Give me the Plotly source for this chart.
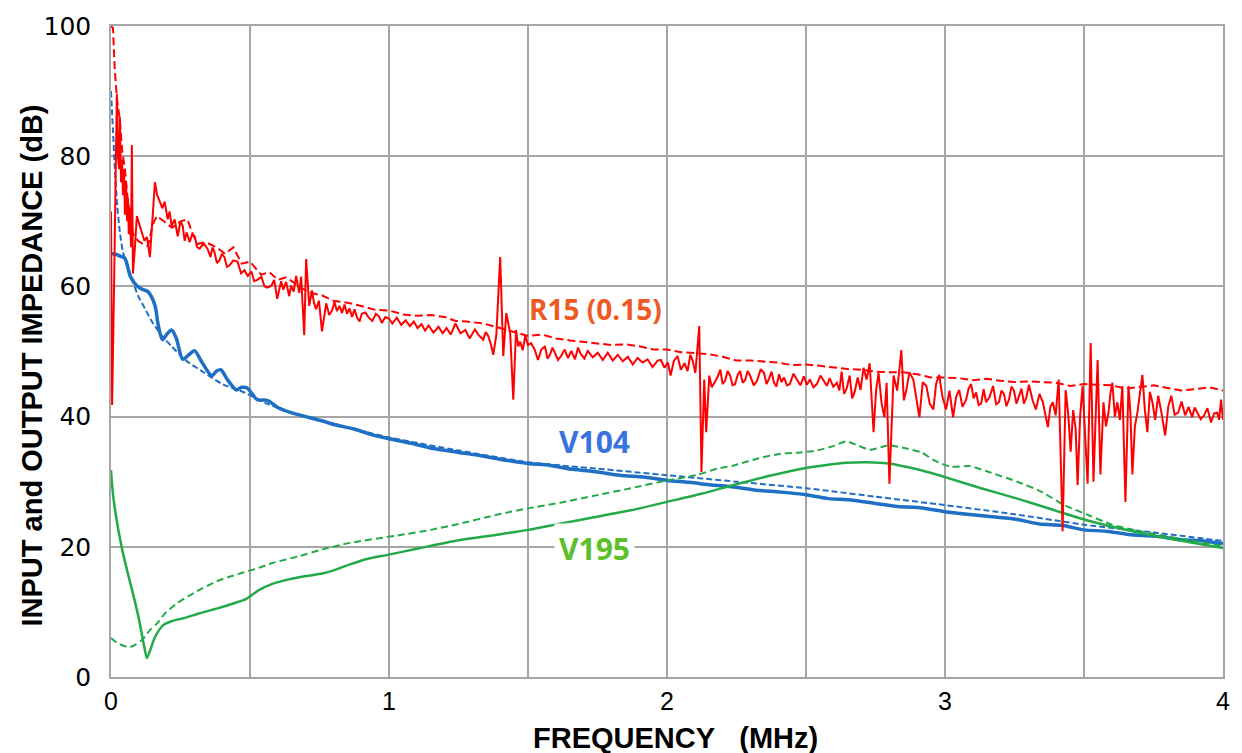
import plotly.graph_objects as go

# ---------------- data: (frequency MHz, impedance dB) ----------------
red_solid = [
    (0.000, 71.5), (0.004, 41.8), (0.011, 60.0), (0.018, 82.0), (0.021, 89.6), (0.025, 80.0),
    (0.029, 78.0), (0.032, 86.0), (0.036, 76.0), (0.040, 79.5), (0.043, 74.0), (0.047, 78.0),
    (0.050, 71.0), (0.054, 76.0), (0.058, 70.0), (0.061, 73.5), (0.064, 68.0), (0.068, 72.0),
    (0.072, 66.0), (0.075, 81.7), (0.079, 62.0), (0.086, 66.0), (0.093, 70.8), (0.102, 69.5),
    (0.111, 68.3), (0.120, 67.0), (0.129, 67.6), (0.140, 64.5), (0.158, 76.0), (0.166, 74.0),
    (0.175, 73.1), (0.185, 72.0), (0.193, 73.0), (0.204, 70.3), (0.211, 71.5), (0.218, 69.3),
    (0.229, 70.3), (0.240, 67.7), (0.250, 70.0), (0.258, 69.3), (0.265, 67.0), (0.272, 68.3),
    (0.283, 66.8), (0.292, 68.0), (0.301, 67.7), (0.310, 66.0), (0.319, 65.8), (0.333, 66.6),
    (0.347, 65.8), (0.358, 64.5), (0.365, 66.0), (0.372, 65.3), (0.381, 63.6), (0.390, 64.0),
    (0.399, 65.0), (0.408, 64.5), (0.417, 63.0), (0.426, 63.2), (0.440, 64.0), (0.455, 63.8),
    (0.468, 62.0), (0.480, 62.5), (0.492, 61.6), (0.505, 62.3), (0.515, 60.8), (0.526, 61.0),
    (0.541, 61.5), (0.552, 60.0), (0.562, 59.8), (0.577, 60.1), (0.587, 61.0), (0.598, 58.1),
    (0.612, 60.8), (0.620, 59.5), (0.630, 60.7), (0.641, 58.5), (0.648, 60.1), (0.657, 59.2),
    (0.666, 61.6), (0.677, 59.0), (0.684, 61.5), (0.695, 52.5), (0.702, 64.2), (0.713, 57.0),
    (0.723, 59.4), (0.730, 57.5), (0.738, 56.5), (0.748, 57.8), (0.759, 53.1), (0.774, 57.4),
    (0.785, 55.6), (0.795, 56.3), (0.804, 57.6), (0.813, 56.2), (0.822, 57.0), (0.831, 55.9),
    (0.840, 57.2), (0.849, 55.8), (0.858, 56.6), (0.867, 55.3), (0.876, 56.5), (0.885, 55.2),
    (0.894, 54.6), (0.902, 55.8), (0.915, 56.0), (0.927, 55.2), (0.940, 54.7), (0.953, 55.8),
    (0.964, 55.4), (0.974, 54.4), (0.987, 55.3), (0.999, 55.1), (1.012, 54.3), (1.028, 55.2),
    (1.044, 54.1), (1.060, 54.8), (1.075, 53.9), (1.089, 54.6), (1.103, 53.6), (1.117, 54.2),
    (1.130, 53.2), (1.142, 54.0), (1.160, 52.9), (1.178, 53.8), (1.193, 52.8), (1.207, 53.6),
    (1.222, 52.6), (1.239, 54.3), (1.257, 52.8), (1.275, 53.3), (1.290, 52.0), (1.309, 53.4),
    (1.321, 52.6), (1.339, 51.8), (1.348, 53.0), (1.357, 52.4), (1.366, 51.2), (1.375, 49.5),
    (1.386, 52.5), (1.400, 64.5), (1.411, 49.3), (1.422, 55.9), (1.436, 52.8), (1.447, 42.6),
    (1.457, 53.3), (1.465, 50.8), (1.472, 51.5), (1.481, 50.2), (1.490, 52.4), (1.500, 51.0),
    (1.511, 51.3), (1.523, 50.4), (1.536, 48.7), (1.548, 50.3), (1.561, 50.8), (1.570, 48.9),
    (1.579, 49.5), (1.588, 50.6), (1.597, 49.8), (1.608, 48.7), (1.619, 49.3), (1.632, 50.3),
    (1.644, 49.0), (1.656, 50.1), (1.669, 48.8), (1.680, 50.6), (1.690, 49.6), (1.703, 48.9),
    (1.715, 50.1), (1.733, 49.1), (1.751, 49.8), (1.769, 48.7), (1.787, 49.8), (1.805, 48.6),
    (1.823, 49.5), (1.841, 48.5), (1.859, 49.2), (1.877, 48.0), (1.894, 49.0), (1.912, 48.3),
    (1.930, 48.8), (1.948, 47.6), (1.966, 48.6), (1.978, 48.7), (1.991, 47.5), (2.003, 48.3),
    (2.013, 46.3), (2.025, 48.6), (2.038, 49.3), (2.050, 47.2), (2.063, 48.2), (2.074, 47.0),
    (2.084, 49.5), (2.093, 48.5), (2.102, 46.7), (2.116, 53.9), (2.124, 31.5), (2.134, 45.7),
    (2.141, 37.6), (2.152, 46.3), (2.161, 44.5), (2.170, 45.2), (2.181, 46.0), (2.192, 47.2),
    (2.200, 45.0), (2.209, 45.5), (2.218, 47.0), (2.227, 46.3), (2.236, 44.8), (2.245, 45.0),
    (2.254, 46.4), (2.263, 47.0), (2.272, 45.2), (2.281, 45.6), (2.290, 47.0), (2.299, 46.3),
    (2.312, 44.8), (2.324, 45.5), (2.337, 47.3), (2.349, 46.7), (2.358, 45.0), (2.367, 45.8),
    (2.376, 46.9), (2.385, 45.2), (2.394, 44.6), (2.403, 46.5), (2.412, 45.3), (2.421, 46.0),
    (2.432, 44.8), (2.442, 45.0), (2.455, 46.6), (2.467, 45.7), (2.480, 44.8), (2.492, 46.2),
    (2.503, 44.9), (2.514, 45.7), (2.527, 44.5), (2.539, 45.0), (2.552, 46.3), (2.564, 45.5),
    (2.575, 44.7), (2.585, 45.9), (2.598, 44.6), (2.611, 45.2), (2.620, 44.0), (2.628, 46.9),
    (2.637, 43.5), (2.646, 44.3), (2.657, 46.3), (2.666, 42.8), (2.675, 43.8), (2.686, 46.0),
    (2.696, 44.1), (2.707, 47.5), (2.718, 45.7), (2.729, 48.2), (2.743, 37.6), (2.752, 44.0),
    (2.761, 46.7), (2.772, 42.0), (2.782, 39.9), (2.790, 45.2), (2.800, 29.7), (2.815, 46.3),
    (2.828, 44.0), (2.843, 50.2), (2.852, 42.5), (2.861, 44.1), (2.872, 46.8), (2.886, 45.7),
    (2.897, 43.0), (2.908, 39.9), (2.920, 45.3), (2.933, 44.7), (2.945, 42.0), (2.958, 41.1),
    (2.968, 45.0), (2.979, 46.4), (2.991, 43.0), (3.004, 41.1), (3.016, 44.0), (3.029, 39.9),
    (3.040, 43.0), (3.051, 44.1), (3.063, 41.5), (3.076, 42.6), (3.085, 44.3), (3.094, 45.0),
    (3.103, 42.8), (3.112, 43.7), (3.121, 41.8), (3.130, 42.0), (3.139, 44.2), (3.148, 42.2),
    (3.160, 43.0), (3.173, 44.7), (3.184, 41.9), (3.194, 42.2), (3.203, 44.0), (3.212, 43.5),
    (3.221, 41.6), (3.230, 42.6), (3.239, 44.6), (3.248, 44.0), (3.257, 42.0), (3.266, 43.2),
    (3.275, 44.3), (3.284, 42.0), (3.293, 43.0), (3.302, 44.9), (3.315, 42.5), (3.327, 41.1),
    (3.340, 43.5), (3.352, 42.2), (3.361, 40.0), (3.370, 38.4), (3.379, 41.5), (3.388, 42.2),
    (3.398, 40.2), (3.409, 45.7), (3.423, 22.4), (3.434, 44.1), (3.443, 40.5), (3.452, 34.6),
    (3.461, 41.0), (3.470, 38.1), (3.477, 29.5), (3.486, 40.0), (3.495, 44.7), (3.504, 38.0),
    (3.513, 29.7), (3.524, 51.3), (3.534, 30.0), (3.549, 48.7), (3.559, 31.1), (3.570, 42.2),
    (3.579, 38.5), (3.588, 40.6), (3.595, 43.5), (3.602, 45.2), (3.611, 40.0), (3.620, 42.2),
    (3.629, 39.5), (3.638, 44.7), (3.649, 26.9), (3.660, 44.7), (3.667, 40.5), (3.674, 31.1),
    (3.683, 38.5), (3.692, 40.6), (3.701, 43.5), (3.710, 46.4), (3.719, 41.0), (3.728, 37.6),
    (3.737, 43.8), (3.746, 42.2), (3.756, 39.5), (3.767, 43.2), (3.779, 40.5), (3.792, 37.1),
    (3.803, 41.5), (3.814, 43.2), (3.826, 40.3), (3.839, 40.6), (3.851, 42.3), (3.864, 40.2),
    (3.876, 41.5), (3.889, 39.9), (3.898, 41.4), (3.907, 40.6), (3.920, 39.6), (3.932, 40.2),
    (3.944, 41.3), (3.957, 39.1), (3.968, 40.5), (3.979, 40.6), (3.986, 39.5), (3.993, 42.6),
    (4.000, 39.5),
]

red_dashed = [
    (0.000, 100.0), (0.007, 99.7), (0.014, 93.0), (0.021, 89.0), (0.032, 85.5), (0.040, 81.0),
    (0.050, 78.0), (0.061, 73.0), (0.080, 68.0), (0.097, 67.0), (0.115, 66.5), (0.133, 66.2),
    (0.150, 69.5), (0.165, 70.8), (0.190, 70.0), (0.220, 69.0), (0.250, 70.0), (0.275, 70.3),
    (0.290, 68.5), (0.310, 66.5), (0.340, 66.8), (0.380, 66.0), (0.410, 65.0), (0.440, 66.0),
    (0.470, 63.5), (0.500, 63.8), (0.540, 61.8), (0.570, 62.2), (0.600, 61.0), (0.630, 61.4),
    (0.660, 60.5), (0.690, 59.6), (0.720, 59.0), (0.760, 58.6), (0.800, 57.8), (0.850, 57.5),
    (0.900, 57.0), (0.950, 56.4), (1.000, 56.3), (1.050, 55.7), (1.100, 55.5), (1.150, 55.6),
    (1.200, 55.3), (1.240, 54.7), (1.280, 54.6), (1.340, 54.3), (1.400, 53.6), (1.450, 53.0),
    (1.500, 52.4), (1.550, 52.6), (1.600, 52.0), (1.650, 51.7), (1.700, 51.5), (1.750, 51.3),
    (1.800, 51.0), (1.850, 51.1), (1.900, 50.8), (1.950, 50.3), (2.000, 50.3), (2.050, 49.9),
    (2.100, 49.8), (2.150, 49.6), (2.200, 49.2), (2.250, 48.6), (2.300, 48.6), (2.350, 48.5),
    (2.400, 48.3), (2.450, 47.9), (2.500, 48.0), (2.550, 47.8), (2.600, 47.5), (2.650, 47.3),
    (2.700, 47.2), (2.750, 46.9), (2.800, 46.8), (2.850, 46.8), (2.900, 46.5), (2.950, 46.0),
    (3.000, 46.0), (3.050, 45.9), (3.100, 45.6), (3.150, 45.8), (3.200, 45.5), (3.250, 45.3),
    (3.300, 45.4), (3.350, 45.3), (3.400, 45.2), (3.450, 44.7), (3.500, 45.0), (3.550, 44.9),
    (3.600, 44.8), (3.650, 44.3), (3.700, 44.5), (3.750, 44.8), (3.800, 44.4), (3.850, 44.0),
    (3.900, 44.2), (3.950, 44.5), (4.000, 44.0),
]

blue_solid_f = [0.000, 0.020, 0.035, 0.050, 0.070, 0.093, 0.115, 0.133, 0.158, 0.170,
                0.185, 0.200, 0.218, 0.235, 0.258, 0.280, 0.301, 0.325, 0.362, 0.380,
                0.395, 0.420, 0.451, 0.470, 0.490, 0.526, 0.562, 0.600, 0.648, 0.700,
                0.755, 0.810, 0.874, 0.940, 1.000, 1.080, 1.160, 1.250, 1.330, 1.420,
                1.500, 1.580, 1.660, 1.750, 1.830, 1.920, 2.000, 2.080, 2.160, 2.240,
                2.320, 2.410, 2.500, 2.580, 2.660, 2.745, 2.830, 2.910, 3.000, 3.080,
                3.170, 3.260, 3.340, 3.420, 3.500, 3.580, 3.660, 3.760, 3.850, 3.930,
                4.000]
blue_solid_db = [65.0, 64.9, 64.6, 64.3, 61.5, 60.1, 59.5, 59.2, 57.1, 54.0,
                 51.8, 52.6, 53.3, 52.0, 48.8, 49.5, 50.1, 48.5, 46.3, 47.0,
                 47.2, 45.6, 44.1, 44.5, 44.4, 42.6, 42.5, 41.4, 40.6, 40.0,
                 39.4, 38.7, 38.1, 37.2, 36.6, 35.9, 35.1, 34.5, 34.0, 33.3,
                 32.8, 32.5, 31.9, 31.5, 31.0, 30.7, 30.2, 29.9, 29.5, 29.2,
                 28.7, 28.4, 28.0, 27.4, 27.2, 26.7, 26.2, 26.0, 25.4, 25.0,
                 24.6, 24.2, 23.5, 23.3, 22.6, 22.4, 21.9, 21.6, 21.1, 20.9,
                 20.5]

blue_dash_f = [0.000, 0.007, 0.014, 0.022, 0.032, 0.043, 0.060, 0.075, 0.097, 0.122,
               0.147, 0.180, 0.218, 0.270, 0.337, 0.400, 0.480, 0.560, 0.650, 0.800,
               1.000, 1.250, 1.500, 1.750, 2.000, 2.250, 2.500, 2.750, 3.000, 3.250,
               3.500, 3.750, 4.000]
blue_dash_db = [90.0, 84.0, 78.0, 72.5, 68.3, 65.3, 63.0, 61.2, 58.6, 56.6,
                54.6, 52.6, 50.8, 48.6, 46.7, 45.0, 43.7, 42.0, 40.6, 38.9,
                36.8, 34.8, 33.0, 32.0, 31.0, 30.0, 29.0, 27.7, 26.4, 25.0,
                23.4, 22.2, 20.9]

green_solid_f = [0.000, 0.005, 0.015, 0.039, 0.060, 0.079, 0.100, 0.118, 0.129, 0.140,
                 0.158, 0.186, 0.220, 0.258, 0.320, 0.380, 0.440, 0.487, 0.530, 0.580,
                 0.640, 0.702, 0.760, 0.795, 0.860, 0.917, 1.000, 1.100, 1.250, 1.395,
                 1.500, 1.620, 1.733, 1.870, 2.000, 2.120, 2.240, 2.370, 2.500, 2.580,
                 2.644, 2.720, 2.796, 2.900, 3.000, 3.130, 3.260, 3.380, 3.500, 3.630,
                 3.760, 3.880, 4.000]
green_solid_db = [31.8, 29.0, 25.5, 19.8, 16.0, 12.8, 9.0, 5.0, 2.9, 4.0,
                  6.1, 7.9, 8.6, 9.0, 9.8, 10.5, 11.3, 12.0, 13.3, 14.3,
                  15.0, 15.5, 15.9, 16.3, 17.3, 18.1, 18.8, 19.7, 21.0, 21.9,
                  22.6, 23.6, 24.5, 25.6, 26.9, 28.1, 29.5, 30.9, 32.1, 32.6,
                  32.9, 33.0, 32.8, 31.9, 30.7, 29.0, 27.4, 25.8, 24.2, 22.8,
                  21.6, 20.7, 19.8]

green_dash_f = [0.000, 0.020, 0.045, 0.068, 0.090, 0.114, 0.140, 0.165, 0.197, 0.237,
                0.297, 0.380, 0.440, 0.520, 0.580, 0.680, 0.760, 0.860, 1.024, 1.150,
                1.250, 1.395, 1.500, 1.620, 1.733, 1.870, 2.000, 2.105, 2.180, 2.240,
                2.330, 2.410, 2.480, 2.540, 2.600, 2.644, 2.690, 2.729, 2.770, 2.796,
                2.850, 2.915, 2.960, 3.020, 3.090, 3.150, 3.260, 3.340, 3.430, 3.520,
                3.600, 3.680, 3.760, 3.880, 4.000]
green_dash_db = [6.0, 5.3, 4.8, 4.6, 5.0, 5.8, 7.2, 8.2, 9.9, 11.3,
                 12.9, 14.7, 15.6, 16.6, 17.5, 18.6, 19.6, 20.6, 21.7, 22.6,
                 23.5, 25.0, 25.9, 26.8, 27.8, 29.0, 30.2, 31.0, 32.0, 32.5,
                 33.6, 34.3, 34.5, 34.8, 35.5, 36.2, 35.5, 34.9, 35.3, 35.6,
                 35.2, 34.5, 33.3, 32.3, 32.4, 31.6, 30.0, 28.6, 26.4, 24.8,
                 23.4, 22.6, 21.9, 21.0, 20.1]

x_ticks = [0, 1, 2, 3, 4]
y_ticks = [0, 20, 40, 60, 80, 100]

labels = ["R15 (0.15)", "V104", "V195"]
label_f = [1.744, 1.740, 1.740]
label_db = [56.6, 36.1, 19.8]

# ---------------- styles ----------------
RED = "#FF0000"
BLUE = "#1F6FC4"
GREEN = "#22AA48"
GRID = "#A6A6A6"
TITLE_FONT = "Liberation Sans, Arial, sans-serif"

fig = go.Figure()
fig.add_trace(go.Scatter(x=blue_dash_f, y=blue_dash_db, mode="lines",
                         line=dict(color=BLUE, width=2, dash="6px,3px", shape="spline", smoothing=0.6)))
fig.add_trace(go.Scatter(x=blue_solid_f, y=blue_solid_db, mode="lines",
                         line=dict(color=BLUE, width=3.5, shape="spline", smoothing=0.8)))
fig.add_trace(go.Scatter(x=green_dash_f, y=green_dash_db, mode="lines",
                         line=dict(color=GREEN, width=2, dash="7px,4px", shape="spline", smoothing=0.6)))
fig.add_trace(go.Scatter(x=green_solid_f, y=green_solid_db, mode="lines",
                         line=dict(color=GREEN, width=2.5, shape="spline", smoothing=0.6)))
fig.add_trace(go.Scatter(x=[p[0] for p in red_dashed], y=[p[1] for p in red_dashed], mode="lines",
                         line=dict(color=RED, width=2, dash="8px,4px")))
fig.add_trace(go.Scatter(x=[p[0] for p in red_solid], y=[p[1] for p in red_solid], mode="lines",
                         line=dict(color=RED, width=2)))

label_colors = ["#EE5A24", "#3A72DF", "#5DC02A"]
for t, fx, fy, c in zip(labels, label_f, label_db, label_colors):
    fig.add_annotation(x=fx, y=fy, text="<b>%s</b>" % t, showarrow=False,
                       font=dict(family="Open Sans", size=28 if t.startswith("R") else 30, color=c),
                       bgcolor="white" if t == "V195" else "rgba(0,0,0,0)", borderpad=4)

fig.add_annotation(xref="paper", yref="paper", x=0.5, xshift=8, y=0, yshift=-61,
                   xanchor="center", yanchor="middle",
                   text="<b>FREQUENCY\u00a0\u00a0\u00a0(MHz)</b>", showarrow=False,
                   font=dict(family=TITLE_FONT, size=29, color="black"))
fig.add_annotation(xref="paper", yref="paper", x=0, xshift=-80, y=0.5, yshift=-14,
                   xanchor="center", yanchor="middle", textangle=-90,
                   text="<b>INPUT and OUTPUT IMPEDANCE (dB)</b>", showarrow=False,
                   font=dict(family=TITLE_FONT, size=29, color="black"))

fig.update_layout(
    width=1242, height=753,
    margin=dict(l=111, r=14, t=20, b=76),
    paper_bgcolor="white", plot_bgcolor="white",
    showlegend=False,
)
fig.update_xaxes(range=[0, 4], tickvals=x_ticks, ticktext=[str(v) for v in x_ticks],
                 showgrid=True, gridcolor=GRID, gridwidth=1.5,
                 minor=dict(dtick=0.5, showgrid=True, gridcolor=GRID, gridwidth=1.5),
                 zeroline=False, showline=True, linecolor=GRID, linewidth=1.5, mirror=True,
                 ticks="", ticklabelstandoff=1,
                 tickfont=dict(family="Liberation Sans, Arial, sans-serif", size=25, color="black"))
fig.update_yaxes(range=[0, 100], tickvals=y_ticks,
                 showgrid=True, gridcolor=GRID, gridwidth=1.5,
                 zeroline=False, showline=True, linecolor=GRID, linewidth=1.5, mirror=True,
                 ticks="", ticklabelstandoff=13,
                 tickfont=dict(family="DejaVu Sans", size=25, color="black"))

fig.write_html("out.html")
